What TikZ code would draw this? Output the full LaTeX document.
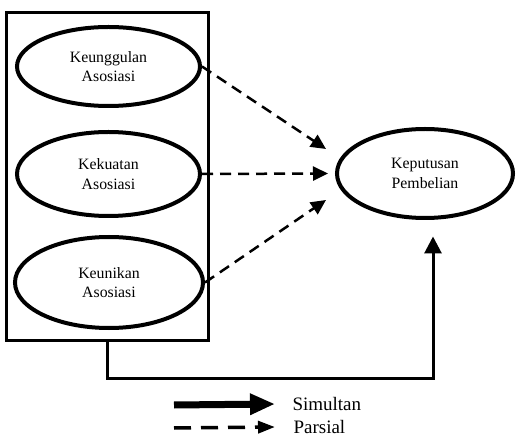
\documentclass[tikz,border=0pt]{standalone}
\usepackage{fontspec}
\setmainfont{Liberation Serif}
\usetikzlibrary{arrows.meta,shapes.geometric}

\tikzset{
  varnode/.style={ellipse, draw, line width=4pt, inner sep=0pt, align=center,
    font=\fontsize{15.8}{19.5}\selectfont},
  parsial/.style={line width=2.5pt, dash pattern=on 11pt off 7pt, ->,
    >={Triangle[length=15pt,width=14pt]}},
  simultan/.style={line width=3pt, ->, >={Triangle[length=17pt,width=17pt]}},
  legtext/.style={anchor=west, font=\fontsize{19}{22}\selectfont},
}

\begin{document}
\begin{tikzpicture}[x=1pt,y=1pt]
    \useasboundingbox (0,0) rectangle (516,439);

    % Draw the box round the three variables
    \node[draw, line width=3pt, inner sep=0pt, minimum width=202pt, minimum height=328pt] (box) at (107.5,262.5) {};

    % Draw the variables
    \node[varnode, minimum width=183pt, minimum height=79pt] (unggul) at (108.5,372.5) {Keunggulan\\Asosiasi};
    \node[varnode, minimum width=183pt, minimum height=84pt] (kuat) at (108.5,265) {Kekuatan\\Asosiasi};
    \node[varnode, minimum width=188pt, minimum height=91pt] (unik) at (109,156.5) {Keunikan\\Asosiasi};
    \node[varnode, minimum width=176pt, minimum height=89pt] (putus) at (425,265.5) {Keputusan\\Pembelian};

    % Partial effects
    \draw[parsial] (unggul.east) -- ([shift={(-9,24.5)}]putus.west);
    \draw[parsial] (kuat.east) -- ([xshift=-7pt]putus.west);
    \draw[parsial] (unik.east) -- ([shift={(-9,-26.5)}]putus.west);

    % Simultaneous effect
    \draw[simultan] (box.south) -- ++(0,-36.5) -| ([shift={(8,-16.5)}]putus.south);

    % Legend
    \coordinate (legs) at (174,34);
    \coordinate (legp) at (174,11);
    \node[legtext] (sim) at (289,35) {Simultan};
    \node[legtext] (par) at (290,12) {Parsial};
    \draw[line width=7pt, ->, >={Triangle[length=25pt,width=20pt]}] (legs) -- ([xshift=-14pt]sim.west);
    \draw[line width=3.5pt, dash pattern=on 17pt off 10pt, ->, >={Triangle[length=17pt,width=12pt]}] (legp) -- ([xshift=-15pt]par.west);

\end{tikzpicture}
\end{document}
